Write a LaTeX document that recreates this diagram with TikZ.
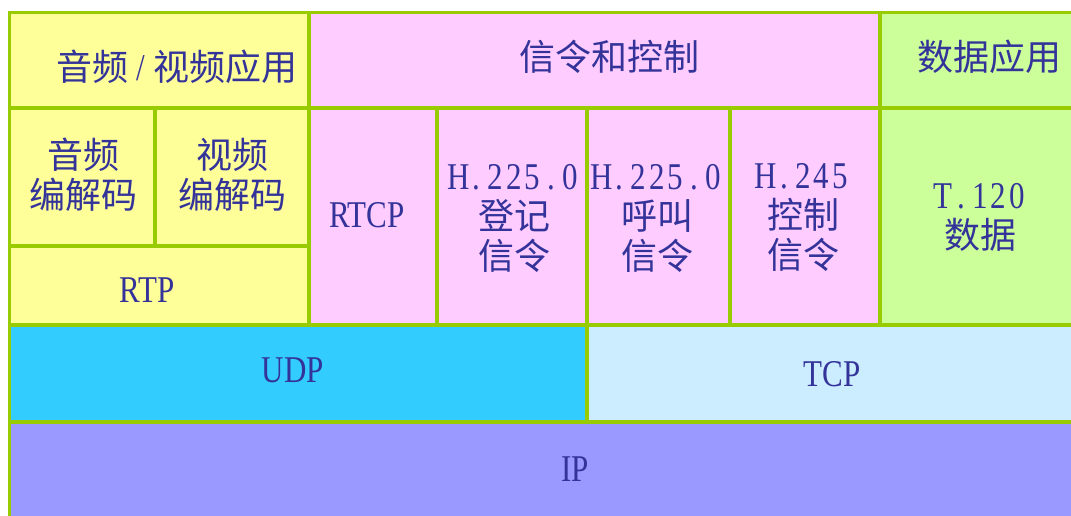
\documentclass[tikz,border=0pt]{standalone}
\usepackage{fontspec}
\usetikzlibrary{fit}
\newfontfamily\cjk{Noto Sans CJK SC}
\newfontfamily\lat{Liberation Serif}[FakeStretch=0.82,Scale=1.05]
\definecolor{lg}{HTML}{99CC00}
\definecolor{tc}{HTML}{333399}
\definecolor{cy}{HTML}{FFFF99}
\definecolor{cp}{HTML}{FFCCFF}
\definecolor{cg}{HTML}{CCFF99}
\definecolor{cu}{HTML}{33CCFF}
\definecolor{ct}{HTML}{CCECFF}
\definecolor{ci}{HTML}{9999FF}
\newcommand\mc[1]{\makebox[18.6pt]{#1}}
\begin{document}
\begin{tikzpicture}[x=1pt,y=-1pt,
  cell/.style={draw=lg, line width=3.5pt, inner sep=0pt, outer sep=0pt, rectangle},
  lab/.style={text=tc, font=\cjk\fontsize{36}{40}\selectfont, align=center, inner sep=0pt}]
\useasboundingbox (0,0) rectangle (1071,516);
\clip (0,0) rectangle (1071,516);
\fill[white] (0,0) rectangle (1071,516);
% cells
\node[cell, fill=cy, fit={(9.5,12.5) (309,108)}] (av) {};
\node[cell, fill=cp, fit={(309,12.5) (880,108)}] (sig) {};
\node[cell, fill=cg, fit={(880,12.5) (1085,108)}] (data) {};
\node[cell, fill=cy, fit={(9.5,108) (155,246)}] (ac) {};
\node[cell, fill=cy, fit={(155,108) (309,246)}] (vc) {};
\node[cell, fill=cy, fit={(9.5,246) (309,325)}] (rtp) {};
\node[cell, fill=cp, fit={(309,108) (437,325)}] (rtcp) {};
\node[cell, fill=cp, fit={(437,108) (587,325)}] (h1) {};
\node[cell, fill=cp, fit={(587,108) (730,325)}] (h2) {};
\node[cell, fill=cp, fit={(730,108) (880,325)}] (h3) {};
\node[cell, fill=cg, fit={(880,108) (1085,325)}] (t120) {};
\node[cell, fill=cu, fit={(9.5,325) (587,422)}] (udp) {};
\node[cell, fill=ct, fit={(587,325) (1085,422)}] (tcp) {};
\node[cell, fill=ci, fit={(9.5,422) (1085,530)}] (ip) {};
% labels
\node[lab] (tav) at (177,67) {音频\makebox[25pt]{\lat /}视频应用};
\node[lab] (tsig) at (609,57) {信令和控制};
\node[lab] (tdata) at (989,57) {数据应用};
\node[lab] (tac) at (83,175) {音频\\编解码};
\node[lab] (tvc) at (232,175) {视频\\编解码};
\node[lab] (trtp) at (147,290) {\lat RTP};
\node[lab] (trtcp) at (367,215) {\lat RTCP};
\node[lab] (th1) at (514,218) {{\lat\mc{H}\mc{.}\mc{2}\mc{2}\mc{5}\mc{.}\mc{0}}\\登记\\信令};
\node[lab] (th2) at (657,218) {{\lat\mc{H}\mc{.}\mc{2}\mc{2}\mc{5}\mc{.}\mc{0}}\\呼叫\\信令};
\node[lab] (th3) at (803,218) {{\lat\mc{H}\mc{.}\mc{2}\mc{4}\mc{5}}\\控制\\信令};
\node[lab] (tt120) at (980,217) {{\lat\mc{T}\mc{.}\mc{1}\mc{2}\mc{0}}\\数据};
\node[lab] (tudp) at (293,370) {\lat UDP};
\node[lab] (ttcp) at (832,374) {\lat TCP};
\node[lab] (tip) at (575,469) {\lat IP};
\end{tikzpicture}
\end{document}
